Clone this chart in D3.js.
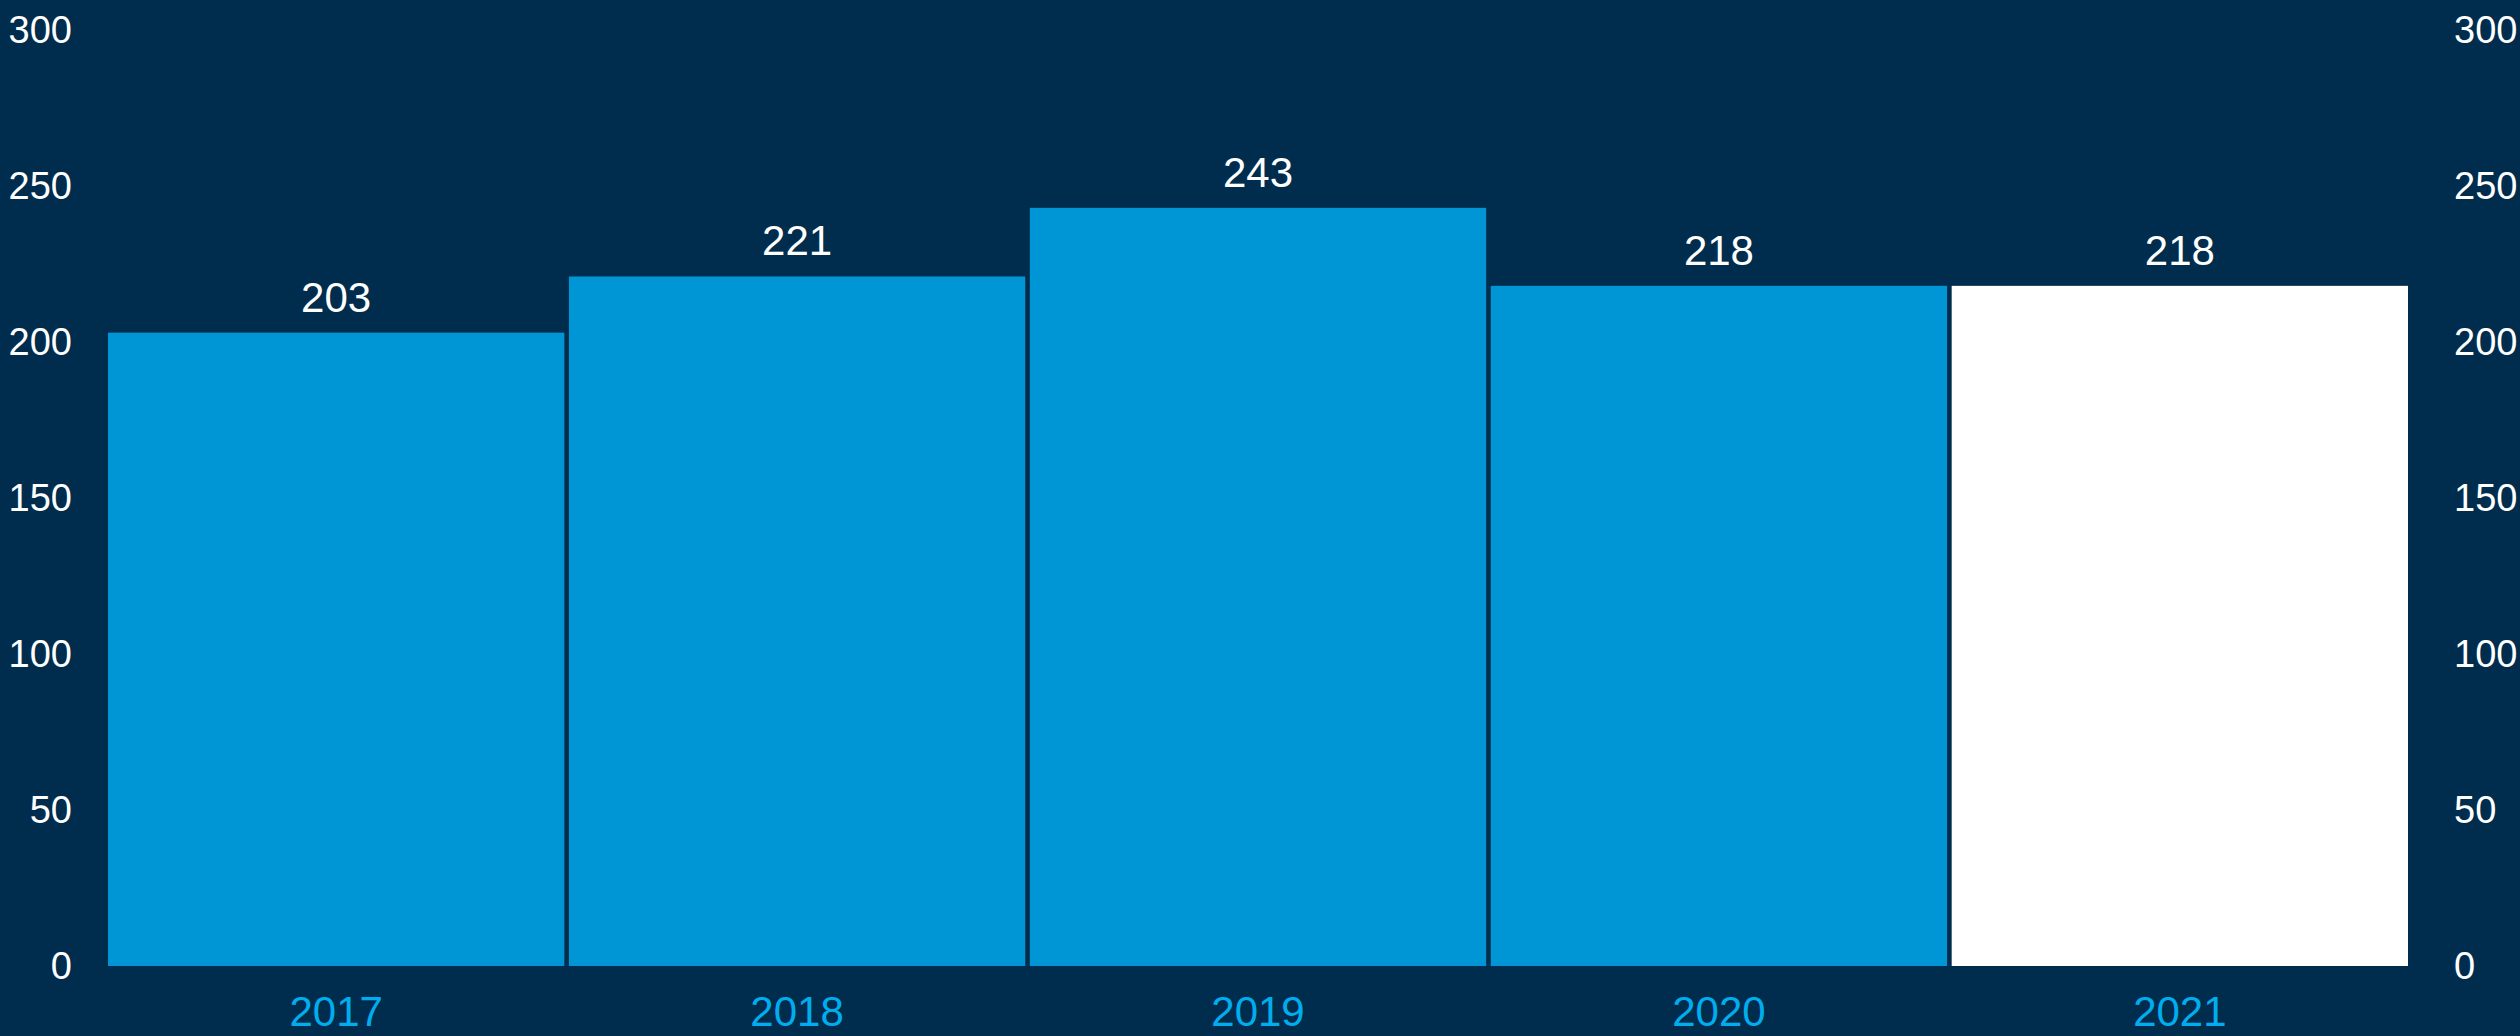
<!DOCTYPE html>
<html>
<head>
<meta charset="utf-8">
<script src="https://cdn.jsdelivr.net/npm/d3@7"></script>
<style>
  html, body { margin: 0; padding: 0; background: #002d4d; }
  svg { display: block; }
  text { font-family: "Liberation Sans", Arial, sans-serif; }
</style>
</head>
<body>
<div class="chart"></div>
<script>
// chart data
const years = ['2017', '2018', '2019', '2020', '2021'];
const counts = [203, 221, 243, 218, 218];
const yTicks = [0, 50, 100, 150, 200, 250, 300];

const WIDTH = 2520;
const HEIGHT = 1036;
const margin = { top: 30, right: 112, bottom: 70, left: 108 };

const svg = d3.select('.chart')
  .append('svg')
  .attr('width', WIDTH)
  .attr('height', HEIGHT);

svg.append('rect')
  .attr('width', WIDTH)
  .attr('height', HEIGHT)
  .attr('fill', '#002d4d');

const x = d3.scaleBand()
  .domain(years)
  .range([margin.left, WIDTH - margin.right])
  .paddingInner(0.01)
  .paddingOuter(0);

const y = d3.scaleLinear()
  .domain([0, 300])
  .range([HEIGHT - margin.bottom, margin.top]);

// bars, last year highlighted in white
svg.selectAll('.bar')
  .data(years)
  .enter()
  .append('rect')
  .attr('class', 'bar')
  .attr('x', d => x(d))
  .attr('y', (d, i) => y(counts[i]))
  .attr('width', x.bandwidth())
  .attr('height', (d, i) => y(0) - y(counts[i]))
  .attr('fill', (d, i) => i === years.length - 1 ? '#ffffff' : '#0096d6');

// value labels
svg.selectAll('.value')
  .data(years)
  .enter()
  .append('text')
  .attr('class', 'value')
  .attr('x', d => x(d) + x.bandwidth() / 2)
  .attr('y', (d, i) => y(counts[i]) - 21)
  .attr('text-anchor', 'middle')
  .attr('fill', '#ffffff')
  .style('font-size', '42px')
  .text((d, i) => counts[i]);

// left and right value axes
const leftAxis = svg.append('g')
  .attr('transform', `translate(${margin.left - 36},0)`)
  .call(d3.axisLeft(y).tickValues(yTicks).tickSize(0).tickPadding(0));

const rightAxis = svg.append('g')
  .attr('transform', `translate(${WIDTH - margin.right + 46},0)`)
  .call(d3.axisRight(y).tickValues(yTicks).tickSize(0).tickPadding(0));

[leftAxis, rightAxis].forEach(ax => {
  ax.select('.domain').remove();
  ax.selectAll('text')
    .attr('fill', '#ffffff')
    .style('font-size', '38px')
    .style('font-family', '"Liberation Sans", Arial, sans-serif');
});

// year axis
const xAxis = svg.append('g')
  .attr('transform', `translate(0,${HEIGHT - margin.bottom})`)
  .call(d3.axisBottom(x).tickSize(0).tickPadding(30));

xAxis.select('.domain').remove();
xAxis.selectAll('text')
  .attr('fill', '#00aeef')
  .style('font-size', '42px')
  .style('font-family', '"Liberation Sans", Arial, sans-serif');
</script>
</body>
</html>
